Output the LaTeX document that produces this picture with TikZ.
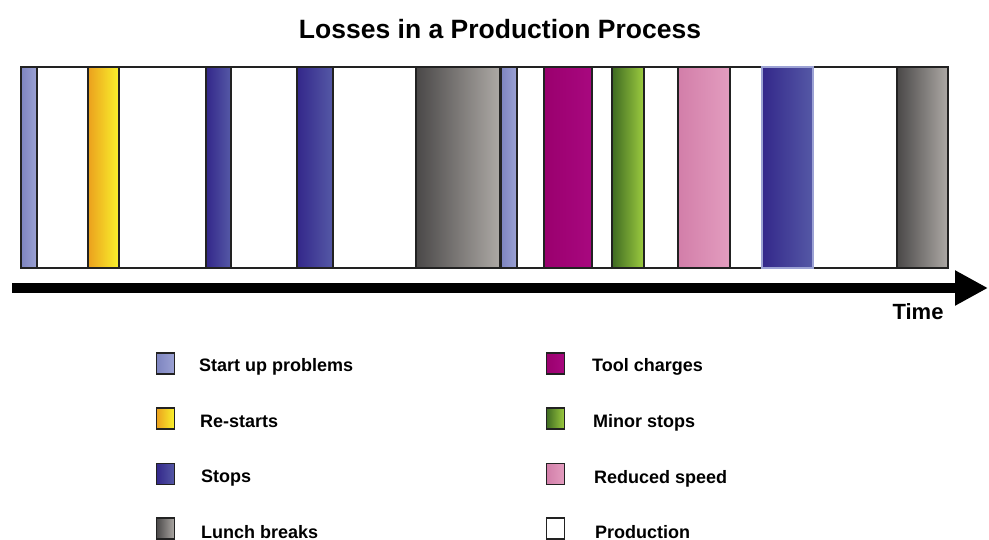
\documentclass[tikz,border=0pt]{standalone}
\usepackage{fontspec}
\setmainfont{Liberation Sans}
\usetikzlibrary{arrows.meta}
\definecolor{suL}{HTML}{7D84BF}
\definecolor{suR}{HTML}{9CA2D4}
\definecolor{rsL}{HTML}{EBA01E}
\definecolor{rsR}{HTML}{F9F32C}
\definecolor{stL}{HTML}{33278A}
\definecolor{stR}{HTML}{5559A6}
\definecolor{luL}{HTML}{4A4848}
\definecolor{luR}{HTML}{ADA9A5}
\definecolor{tcL}{HTML}{9A006E}
\definecolor{tcR}{HTML}{A8087F}
\definecolor{msL}{HTML}{3E6A22}
\definecolor{msR}{HTML}{9DCC3F}
\definecolor{rdL}{HTML}{D27EA9}
\definecolor{rdR}{HTML}{E39DBF}
\definecolor{edge}{HTML}{222222}
\begin{document}
\begin{tikzpicture}[x=1pt,y=-1pt,
  seg/.style={draw=edge, line width=1.6pt},
  startup/.style={left color=suL, right color=suR},
  restart/.style={left color=rsL, right color=rsR},
  stopc/.style={left color=stL, right color=stR},
  lunch/.style={left color=luL, right color=luR},
  toolc/.style={left color=tcL, right color=tcR},
  minor/.style={left color=msL, right color=msR},
  reduced/.style={left color=rdL, right color=rdR},
  prod/.style={fill=white},
  key/.style={draw=edge, line width=1.4pt, minimum width=18.5pt, minimum height=21pt, inner sep=0pt},
  keytext/.style={anchor=base west, inner sep=0pt, font=\bfseries\fontsize{18}{20}\selectfont},
  title/.style={anchor=base, inner sep=0pt, font=\bfseries\fontsize{26.5}{30}\selectfont}
]
\useasboundingbox (0,0) rectangle (989,540);

% title
\node[title] (ttl) at (500,39) {Losses in a Production Process};

% production band
\path[seg, prod] (21,67) rectangle (948,268);
\path[seg, startup] (21,67) rectangle (37,268);
\path[seg, restart] (88,67) rectangle (119,268);
\path[seg, stopc] (206,67) rectangle (231,268);
\path[seg, stopc] (297,67) rectangle (333,268);
\path[seg, lunch] (416,67) rectangle (500,268);
\path[seg, startup] (501,67) rectangle (517,268);
\path[seg, toolc] (544,67) rectangle (592,268);
\path[seg, minor] (612,67) rectangle (644,268);
\path[seg, reduced] (678,67) rectangle (730,268);
\path[stopc, draw=suR, line width=1.2pt] (762,67) rectangle (813,268);
\path[seg, lunch] (897,67) rectangle (948,268);

% time arrow
\coordinate (tstart) at (12,288);
\coordinate (tend) at (988,288);
\draw[line width=10pt, -{Triangle[length=33pt,width=33pt]}] (tstart) -- (tend);
\node[anchor=base, inner sep=0pt, font=\bfseries\fontsize{22}{24}\selectfont] (time) at (918,320) {Time};

% legend, left column
\node[key, startup] (k1) at (165.5,363.5) {};
\node[keytext] (t1) at (199,371) {Start up problems};
\node[key, restart] (k2) at (165.5,418.5) {};
\node[keytext] (t2) at (200,427) {Re-starts};
\node[key, stopc] (k3) at (165.5,474) {};
\node[keytext] (t3) at (201,482) {Stops};
\node[key, lunch] (k4) at (165.5,528.5) {};
\node[keytext] (t4) at (201,538) {Lunch breaks};

% legend, right column
\node[key, toolc] (k5) at (555.5,363.5) {};
\node[keytext] (t5) at (592,372) {Tool charges};
\node[key, minor] (k6) at (555.5,418.5) {};
\node[keytext] (t6) at (593,428) {Minor stops};
\node[key, reduced] (k7) at (555.5,474) {};
\node[keytext] (t7) at (594,483) {Reduced speed};
\node[key, prod] (k8) at (555.5,528.5) {};
\node[keytext] (t8) at (595,538) {Production};
\end{tikzpicture}
\end{document}
